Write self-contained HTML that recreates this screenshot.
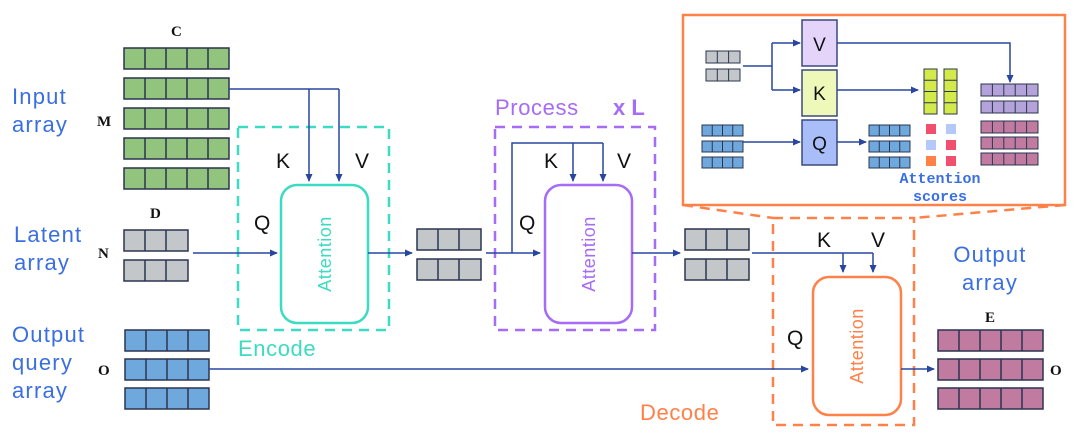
<!DOCTYPE html>
<html><head><meta charset="utf-8"><style>
html,body{margin:0;padding:0;background:#fff;}
svg{display:block}
.lbl{font-family:"Liberation Sans",sans-serif;font-size:22px;letter-spacing:1.2px;fill:#3a6fe0}
.kv{font-family:"Liberation Sans",sans-serif;font-size:21px;fill:#111}
.ser{font-family:"Liberation Serif",serif;font-weight:bold;font-size:15px;fill:#111}
.att{font-family:"Liberation Sans",sans-serif;font-size:18px;letter-spacing:0.5px}
</style></head><body>
<svg width="1080" height="437" viewBox="0 0 1080 437" xmlns="http://www.w3.org/2000/svg">
<defs>
<marker id="ah" markerWidth="8" markerHeight="8" refX="7" refY="4" orient="auto" markerUnits="userSpaceOnUse"><path d="M0,0.5 L8,4 L0,7.5 z" fill="#2846a0"/></marker>
<g id="g5"><rect x="0" y="0" width="105" height="21" fill="#93c47d" stroke="#2b3550" stroke-width="1.5"/><path d="M21,0v21M42,0v21M63,0v21M84,0v21" stroke="#2b3550" stroke-width="1.5"/></g>
<g id="gr3"><rect x="0" y="0" width="64" height="21" fill="#c4c7ca" stroke="#2b3550" stroke-width="1.5"/><path d="M21,0v21M42,0v21" stroke="#2b3550" stroke-width="1.5"/></g>
<g id="b4"><rect x="0" y="0" width="84" height="21" fill="#6fa8dc" stroke="#2b3550" stroke-width="1.5"/><path d="M21,0v21M42,0v21M63,0v21" stroke="#2b3550" stroke-width="1.5"/></g>
<g id="m5"><rect x="0" y="0" width="105" height="21" fill="#c27ba0" stroke="#2b3550" stroke-width="1.5"/><path d="M21,0v21M42,0v21M63,0v21M84,0v21" stroke="#2b3550" stroke-width="1.5"/></g>
<g id="sg3"><rect x="0" y="0" width="34" height="12" fill="#c4c7ca" stroke="#2b3550"/><path d="M11.3,0v12M22.6,0v12" stroke="#2b3550"/></g>
<g id="sb4"><rect x="0" y="0" width="41" height="11" fill="#6fa8dc" stroke="#2b3550"/><path d="M10.25,0v11M20.5,0v11M30.75,0v11" stroke="#2b3550"/></g>
<g id="sl5"><rect x="0" y="0" width="57" height="12" fill="#b4a3d8" stroke="#2b3550"/><path d="M11.4,0v12M22.8,0v12M34.2,0v12M45.6,0v12" stroke="#2b3550"/></g>
<g id="sm5"><rect x="0" y="0" width="57" height="12" fill="#c27ba0" stroke="#2b3550"/><path d="M11.4,0v12M22.8,0v12M34.2,0v12M45.6,0v12" stroke="#2b3550"/></g>
<g id="gc"><rect x="0" y="0" width="13" height="45" fill="#d4ea4a" stroke="#2b3550"/><path d="M0,11.25h13M0,22.5h13M0,33.75h13" stroke="#2b3550"/></g>
</defs>

<!-- left labels -->
<text class="lbl" x="12" y="104">Input</text><text class="lbl" x="12" y="132">array</text>
<text class="lbl" x="14" y="242">Latent</text><text class="lbl" x="14" y="270">array</text>
<text class="lbl" x="12" y="342">Output</text><text class="lbl" x="12" y="370">query</text><text class="lbl" x="12" y="398">array</text>
<text class="ser" x="171" y="36">C</text>
<text class="ser" x="97" y="126">M</text>
<text class="ser" x="150" y="218">D</text>
<text class="ser" x="98" y="258">N</text>
<text class="ser" x="98" y="375">O</text>

<use href="#g5" x="124" y="48"/><use href="#g5" x="124" y="78"/><use href="#g5" x="124" y="108"/><use href="#g5" x="124" y="138"/><use href="#g5" x="124" y="168"/>
<use href="#gr3" x="124" y="230"/><use href="#gr3" x="124" y="260"/>
<use href="#b4" x="125" y="330"/><use href="#b4" x="125" y="359"/><use href="#b4" x="125" y="388"/>

<!-- Encode -->
<rect x="238" y="127" width="151" height="203" fill="none" stroke="#3ddbc3" stroke-width="2.5" stroke-dasharray="10,7"/>
<rect x="281" y="185" width="87" height="138" rx="16" fill="#fff" stroke="#3ddbc3" stroke-width="2.5"/>
<text class="att" x="0" y="0" transform="translate(331,254) rotate(-90)" text-anchor="middle" fill="#3ddbc3">Attention</text>
<text x="238" y="356" font-family="Liberation Sans,sans-serif" font-size="22" letter-spacing="0.6" fill="#3ddbc3">Encode</text>
<path d="M229,89H339" stroke="#2846a0" stroke-width="1.5" fill="none"/>
<path d="M309,89V181" stroke="#2846a0" stroke-width="1.5" marker-end="url(#ah)"/>
<path d="M339,89V181" stroke="#2846a0" stroke-width="1.5" marker-end="url(#ah)"/>
<text class="kv" x="276" y="168">K</text><text class="kv" x="355" y="168">V</text><text class="kv" x="254" y="230">Q</text>
<path d="M193,253H277" stroke="#2846a0" stroke-width="1.5" marker-end="url(#ah)"/>
<path d="M368,253H412" stroke="#2846a0" stroke-width="1.5" marker-end="url(#ah)"/>
<use href="#gr3" x="417" y="229"/><use href="#gr3" x="417" y="259"/>

<!-- Process -->
<rect x="495" y="127" width="160" height="203" fill="none" stroke="#a66cf5" stroke-width="2.5" stroke-dasharray="10,7"/>
<text x="495" y="115" font-family="Liberation Sans,sans-serif" font-size="22" letter-spacing="0.6" fill="#a66cf5">Process</text>
<text x="613" y="115" font-family="Liberation Sans,sans-serif" font-size="22" font-weight="bold" fill="#a66cf5">x L</text>
<rect x="545" y="185" width="87" height="138" rx="16" fill="#fff" stroke="#a66cf5" stroke-width="2.5"/>
<text class="att" x="0" y="0" transform="translate(595,254) rotate(-90)" text-anchor="middle" fill="#a66cf5">Attention</text>
<path d="M486,253H540" stroke="#2846a0" stroke-width="1.5" marker-end="url(#ah)"/>
<path d="M512,253V143H603" stroke="#2846a0" stroke-width="1.5" fill="none"/>
<path d="M573,143V181" stroke="#2846a0" stroke-width="1.5" marker-end="url(#ah)"/>
<path d="M603,143V181" stroke="#2846a0" stroke-width="1.5" marker-end="url(#ah)"/>
<text class="kv" x="544" y="168">K</text><text class="kv" x="617" y="168">V</text><text class="kv" x="519" y="230">Q</text>
<path d="M632,253H680" stroke="#2846a0" stroke-width="1.5" marker-end="url(#ah)"/>
<use href="#gr3" x="685" y="229"/><use href="#gr3" x="685" y="259"/>

<!-- inset -->
<rect x="683" y="15" width="382" height="190" fill="#fff" stroke="#ff8148" stroke-width="2.5"/>
<path d="M683,205L773,218M1065,205L914,218" stroke="#ff8148" stroke-width="2.5" stroke-dasharray="10,7" fill="none"/>
<use href="#sg3" x="706" y="51"/><use href="#sg3" x="706" y="69"/>
<path d="M743,66H772M772,43V90" stroke="#2846a0" stroke-width="1.5" fill="none"/>
<path d="M772,43H800" stroke="#2846a0" stroke-width="1.5" marker-end="url(#ah)"/>
<path d="M772,90H800" stroke="#2846a0" stroke-width="1.5" marker-end="url(#ah)"/>
<rect x="802" y="20" width="35" height="46" fill="#e4d4fa" stroke="#3a4a80" stroke-width="1.5"/>
<rect x="802" y="70" width="35" height="46" fill="#eef8b8" stroke="#3a4a80" stroke-width="1.5"/>
<rect x="802" y="120" width="35" height="45" fill="#a9bdf8" stroke="#3a4a80" stroke-width="1.5"/>
<text class="kv" x="819.5" y="51" text-anchor="middle" style="font-size:19px">V</text>
<text class="kv" x="819.5" y="100" text-anchor="middle" style="font-size:19px">K</text>
<text class="kv" x="819.5" y="150" text-anchor="middle" style="font-size:19px">Q</text>
<use href="#sb4" x="702" y="125"/><use href="#sb4" x="702" y="141"/><use href="#sb4" x="702" y="157"/>
<path d="M743,142H800" stroke="#2846a0" stroke-width="1.5" marker-end="url(#ah)"/>
<path d="M837,142H866" stroke="#2846a0" stroke-width="1.5" marker-end="url(#ah)"/>
<use href="#sb4" x="869" y="125"/><use href="#sb4" x="869" y="141"/><use href="#sb4" x="869" y="157"/>
<path d="M837,90H918" stroke="#2846a0" stroke-width="1.5" marker-end="url(#ah)"/>
<use href="#gc" x="924" y="69"/><use href="#gc" x="944" y="69"/>
<path d="M837,43H1010V82" stroke="#2846a0" stroke-width="1.5" fill="none" marker-end="url(#ah)"/>
<rect x="926" y="124" width="10" height="10" fill="#f0506e"/><rect x="946" y="124" width="10" height="10" fill="#b5c8fa"/>
<rect x="926" y="140" width="10" height="10" fill="#b5c8fa"/><rect x="946" y="140" width="10" height="10" fill="#f0506e"/>
<rect x="926" y="156" width="10" height="10" fill="#ff8148"/><rect x="946" y="156" width="10" height="10" fill="#f0506e"/>
<use href="#sl5" x="981" y="84"/><use href="#sl5" x="981" y="101"/>
<use href="#sm5" x="981" y="121"/><use href="#sm5" x="981" y="137"/><use href="#sm5" x="981" y="153"/>
<text x="940" y="183" text-anchor="middle" font-family="Liberation Mono,monospace" font-weight="bold" font-size="15" fill="#3a6fe0">Attention</text>
<text x="940" y="201" text-anchor="middle" font-family="Liberation Mono,monospace" font-weight="bold" font-size="15" fill="#3a6fe0">scores</text>

<!-- Decode -->
<rect x="773" y="218" width="141" height="207" fill="none" stroke="#ff8148" stroke-width="2.5" stroke-dasharray="10,7"/>
<text x="640" y="420" font-family="Liberation Sans,sans-serif" font-size="22" letter-spacing="0.6" fill="#ff8148">Decode</text>
<rect x="813" y="277" width="88" height="138" rx="16" fill="#fff" stroke="#ff8148" stroke-width="2.5"/>
<text class="att" x="0" y="0" transform="translate(863,346) rotate(-90)" text-anchor="middle" fill="#ff8148">Attention</text>
<path d="M752,253H873" stroke="#2846a0" stroke-width="1.5" fill="none"/>
<path d="M843,253V272" stroke="#2846a0" stroke-width="1.5" marker-end="url(#ah)"/>
<path d="M873,253V272" stroke="#2846a0" stroke-width="1.5" marker-end="url(#ah)"/>
<text class="kv" x="817" y="247">K</text><text class="kv" x="871" y="247">V</text><text class="kv" x="787" y="345">Q</text>
<path d="M209,369H808" stroke="#2846a0" stroke-width="1.5" marker-end="url(#ah)"/>
<path d="M901,369H934" stroke="#2846a0" stroke-width="1.5" marker-end="url(#ah)"/>
<text class="lbl" x="990" y="262" text-anchor="middle">Output</text><text class="lbl" x="990" y="290" text-anchor="middle">array</text>
<text class="ser" x="985" y="322">E</text>
<text class="ser" x="1050" y="375">O</text>
<use href="#m5" x="938" y="330"/><use href="#m5" x="938" y="359"/><use href="#m5" x="938" y="388"/>
</svg>
</body></html>
